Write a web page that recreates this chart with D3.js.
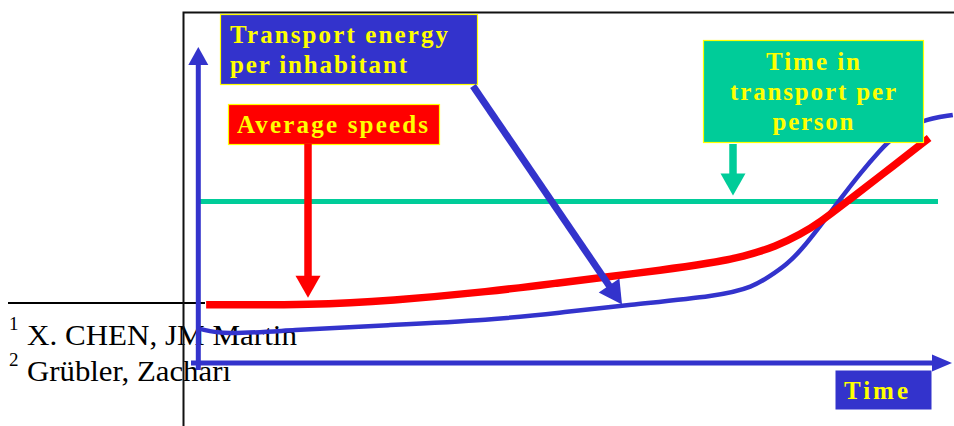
<!DOCTYPE html>
<html>
<head>
<meta charset="utf-8">
<script src="https://cdn.jsdelivr.net/npm/d3@7"></script>
<style>
  html, body { margin: 0; padding: 0; background: #fff; }
  svg { display: block; }
</style>
</head>
<body>
<div id="chart"></div>
<script>
// ---- Data (schematic: time index 0-100, relative level 0-100) ----
const speedTime   = [1.1, 15.5, 26.0, 39.5, 48.9, 55.7, 62.4, 69.2, 73.7, 78.2, 81.4, 84.1, 87.7, 92.2, 98.8];
const avgSpeed    = [18.4, 18.4, 19.7, 22.6, 25.4, 27.4, 29.3, 31.6, 33.6, 37.0, 40.7, 44.6, 51.1, 59.2, 71.2];

const energyTime  = [0.3, 3.4, 12.4, 26.0, 39.5, 48.9, 58.0, 70.5, 75.0, 77.3, 79.6, 81.4, 84.1, 86.8, 89.5, 92.2, 93.9, 97.6, 102.0];
const energyPerInhabitant = [10.8, 8.9, 10.4, 12.0, 13.6, 15.9, 18.4, 21.2, 24.1, 27.5, 31.3, 35.4, 43.4, 51.9, 60.1, 67.4, 71.5, 76.9, 78.5];

const ttbTime     = [0, 100];
const timeInTransport = [51.1, 51.1];

const energyLabel = ["Transport energy", "per inhabitant"];
const speedLabel  = ["Average speeds"];
const ttbLabel    = ["Time in", "transport per", "person"];
const axisLabel   = ["Time"];
const footnotes   = [["1", "X. CHEN, JM Martin"], ["2", "Grübler, Zachari"]];

// ---- Setup ----
const W = 954, H = 426;
const BLUE = "#3333CC", RED = "#FF0000", TEAL = "#00CC99", YEL = "#FFFF00";
const SERIF = "'Liberation Serif', 'Times New Roman', serif";

const svg = d3.select("#chart").append("svg").attr("width", W).attr("height", H);

const x = d3.scaleLinear().domain([0, 100]).range([198, 938]);
const y = d3.scaleLinear().domain([0, 100]).range([363, 47]);

// ---- Footnotes (underneath) ----
svg.append("line").attr("x1", 8).attr("x2", 205).attr("y1", 303).attr("y2", 303)
  .attr("stroke", "#000").attr("stroke-width", 2);
const fnBase = [345, 381];
const fnLen = [270, 204];
footnotes.forEach((f, i) => {
  svg.append("text").attr("x", 9).attr("y", fnBase[i] - 15).text(f[0])
    .attr("font-family", SERIF).attr("font-size", 19).attr("fill", "#000");
  svg.append("text").attr("x", 27).attr("y", fnBase[i]).text(f[1])
    .attr("font-family", SERIF).attr("font-size", 29).attr("fill", "#000")
    .attr("textLength", fnLen[i]).attr("lengthAdjust", "spacingAndGlyphs");
});

// ---- Frame ----
svg.append("path").attr("d", "M183.5,426 V12.5 H954")
  .attr("fill", "none").attr("stroke", "#111").attr("stroke-width", 2);

// ---- Arrow helper ----
function arrow(x1, y1, x2, y2, shaftW, headLen, headW, color) {
  const dx = x2 - x1, dy = y2 - y1, L = Math.hypot(dx, dy);
  const ux = dx / L, uy = dy / L, nx = -uy, ny = ux;
  const bx = x2 - ux * headLen, by = y2 - uy * headLen;
  svg.append("line").attr("x1", x1).attr("y1", y1).attr("x2", bx + ux).attr("y2", by + uy)
    .attr("stroke", color).attr("stroke-width", shaftW);
  svg.append("path")
    .attr("d", `M${x2},${y2} L${bx + nx * headW / 2},${by + ny * headW / 2} L${bx - nx * headW / 2},${by - ny * headW / 2} Z`)
    .attr("fill", color);
}

// ---- Series lines ----
const line = d3.line().x(d => x(d[0])).y(d => y(d[1])).curve(d3.curveBasis);

svg.append("path").datum(d3.zip(ttbTime, timeInTransport))
  .attr("d", d3.line().x(d => x(d[0])).y(d => y(d[1])))
  .attr("fill", "none").attr("stroke", TEAL).attr("stroke-width", 5);

svg.append("path").datum(d3.zip(energyTime, energyPerInhabitant))
  .attr("d", line).attr("fill", "none").attr("stroke", BLUE).attr("stroke-width", 4.5);

svg.append("path").datum(d3.zip(speedTime, avgSpeed))
  .attr("d", line).attr("fill", "none").attr("stroke", RED).attr("stroke-width", 7.5);

// ---- Axes (blue arrows) ----
arrow(x(0) + 0.3, 370, x(0) + 0.3, y(100), 5, 18, 20, BLUE);
arrow(191, y(0), 952, y(0), 5, 20, 17, BLUE);

// ---- Label boxes ----
function box(x0, y0, w, h, fill, stroke) {
  svg.append("rect").attr("x", x0 + 0.5).attr("y", y0 + 0.5).attr("width", w).attr("height", h)
    .attr("fill", fill).attr("stroke", stroke || "none").attr("stroke-width", 1.2);
}
function label(txt, x0, yb, len, anchor) {
  svg.append("text").attr("x", x0).attr("y", yb).text(txt)
    .attr("font-family", SERIF).attr("font-weight", "bold").attr("font-size", 25)
    .attr("fill", YEL).attr("text-anchor", anchor || "start")
    .attr("textLength", len).attr("lengthAdjust", "spacing");
}

// Transport energy
box(220, 14, 257, 70, BLUE, YEL);
label(energyLabel[0], 230, 43, 218);
label(energyLabel[1], 230, 73, 177);
arrow(473, 86, x(57.3), y(18.5), 7, 23, 25, BLUE);

// Average speeds
box(228, 104, 211, 40, RED, YEL);
label(speedLabel[0], 237, 133, 191);
arrow(308, 144, 308, y(avgSpeed[1]) - 7, 7.5, 22, 25, RED);

// Time in transport
box(703, 40, 220, 102, TEAL, YEL);
label(ttbLabel[0], 813, 70, 94, "middle");
label(ttbLabel[1], 813, 100, 166, "middle");
label(ttbLabel[2], 813, 130, 81, "middle");
arrow(733, 144, 733, y(timeInTransport[0]) - 6, 7.5, 22, 25, TEAL);

// Time axis label
box(835, 370, 96, 39, BLUE);
label(axisLabel[0], 844, 399, 64);
</script>
</body>
</html>
